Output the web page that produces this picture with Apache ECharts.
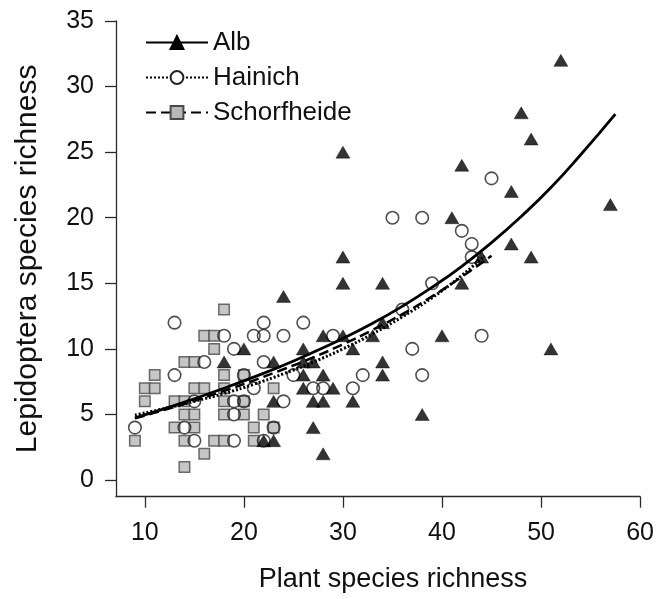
<!DOCTYPE html>
<html>
<head>
<meta charset="utf-8">
<script src="https://cdn.jsdelivr.net/npm/echarts@6/dist/echarts.min.js"></script>
<style>
  html, body { margin: 0; padding: 0; background: #fff; }
  #chart { width: 657px; height: 599px; }
</style>
</head>
<body>
<div id="chart"></div>
<script>
// Tick positions
const xTicks = [10, 20, 30, 40, 50, 60];
const yTicks = [0, 5, 10, 15, 20, 25, 30, 35];

// Plot-level observations: [plant species richness, Lepidoptera species richness]
const albPlots = [
  [52, 32], [48, 28], [49, 26], [30, 25], [42, 24], [47, 22], [57, 21], [41, 20],
  [47, 18], [30, 17], [44, 17], [49, 17], [30, 15], [34, 15], [42, 15], [24, 14],
  [34, 12], [28, 11], [30, 11], [33, 11], [40, 11], [20, 10], [26, 10], [31, 10],
  [51, 10], [18, 9], [23, 9], [26, 9], [27, 9], [34, 9], [26, 8], [28, 8], [34, 8],
  [26, 7], [29, 7], [23, 6], [27, 6], [28, 6], [31, 6], [38, 5], [27, 4], [22, 3],
  [23, 3], [28, 2]
];
const hainichPlots = [
  [45, 23], [35, 20], [38, 20], [42, 19], [43, 18], [43, 17], [39, 15], [36, 13],
  [13, 12], [22, 12], [26, 12], [18, 11], [21, 11], [22, 11], [24, 11], [29, 11],
  [44, 11], [19, 10], [37, 10], [16, 9], [22, 9], [13, 8], [20, 8], [25, 8], [32, 8],
  [38, 8], [21, 7], [27, 7], [28, 7], [31, 7], [15, 6], [19, 6], [20, 6], [24, 6],
  [19, 5], [9, 4], [14, 4], [23, 4], [15, 3], [19, 3], [22, 3]
];
const schorfheidePlots = [
  [18, 13], [16, 11], [17, 11], [17, 10], [14, 9], [15, 9], [11, 8], [18, 8], [20, 8],
  [10, 7], [11, 7], [15, 7], [16, 7], [18, 7], [23, 7], [10, 6], [13, 6], [14, 6],
  [18, 6], [20, 6], [14, 5], [15, 5], [18, 5], [20, 5], [22, 5], [13, 4], [15, 4],
  [21, 4], [23, 4], [9, 3], [14, 3], [17, 3], [18, 3], [21, 3], [16, 2], [14, 1]
];

// Fitted curves per region
const albFit = [
  [9, 4.75], [12, 5.45], [15, 6.2], [18, 7.0], [21, 7.85], [24, 8.75], [27, 9.75],
  [30, 10.8], [33, 11.95], [36, 13.25], [39, 14.7], [42, 16.3], [45, 18.1],
  [48, 20.1], [51, 22.3], [54, 24.8], [57.5, 27.9]
];
const hainichFit = [
  [9, 4.95], [12, 5.45], [15, 6.0], [18, 6.6], [21, 7.3], [24, 8.1], [27, 9.0],
  [30, 10.0], [33, 11.15], [36, 12.45], [39, 13.9], [42, 15.6], [44.3, 17.1]
];
const schorfheideFit = [
  [9, 4.7], [12, 5.35], [15, 6.05], [18, 6.8], [21, 7.6], [24, 8.45], [27, 9.35],
  [30, 10.35], [33, 11.45], [36, 12.65], [39, 14.0], [42, 15.5], [45, 17.1]
];

const FONT = "'Liberation Sans', Arial, Helvetica, sans-serif";
const AXIS_COLOR = '#2a2a2a';
const TEXT_COLOR = '#111';

const chart = echarts.init(document.getElementById('chart'), null, { renderer: 'canvas' });

const triangleStyle = { color: '#000', borderColor: '#000', borderWidth: 0.5 };
const circleStyle = { color: 'rgba(0,0,0,0)', borderColor: '#222', borderWidth: 1.6 };
const squareStyle = { color: '#b8b8b8', borderColor: '#4a4a4a', borderWidth: 1.5 };

chart.setOption({
  animation: false,
  backgroundColor: '#fff',
  textStyle: { fontFamily: FONT },
  grid: { left: 116, right: 14.3, top: 21, bottom: 102.3, containLabel: false },
  legend: {
    data: ['Alb', 'Hainich', 'Schorfheide'],
    orient: 'vertical',
    left: 140,
    top: 24,
    itemWidth: 62,
    itemHeight: 16,
    itemGap: 8,
    textStyle: { fontSize: 26, color: TEXT_COLOR, fontFamily: FONT, lineHeight: 27 },
    selectedMode: false
  },
  xAxis: {
    type: 'value',
    min: 7.09,
    max: 60,
    name: 'Plant species richness',
    nameLocation: 'middle',
    nameGap: 69,
    nameTextStyle: { fontSize: 27, color: TEXT_COLOR, fontFamily: FONT, padding: [0, 0, 0, 30] },
    axisLine: { show: true, onZero: false, lineStyle: { color: AXIS_COLOR, width: 1.3 } },
    axisTick: { show: true, inside: false, length: 11, customValues: xTicks,
                lineStyle: { color: AXIS_COLOR, width: 1.3 } },
    axisLabel: { customValues: xTicks, margin: 24, fontSize: 25, color: TEXT_COLOR, fontFamily: FONT },
    splitLine: { show: false }
  },
  yAxis: {
    type: 'value',
    min: -1.27,
    max: 35,
    name: 'Lepidoptera species richness',
    nameLocation: 'middle',
    nameGap: 73,
    nameTextStyle: { fontSize: 30, color: TEXT_COLOR, fontFamily: FONT },
    axisLine: { show: true, onZero: false, lineStyle: { color: AXIS_COLOR, width: 1.3 } },
    axisTick: { show: true, inside: false, length: 11, customValues: yTicks,
                lineStyle: { color: AXIS_COLOR, width: 1.3 } },
    axisLabel: { customValues: yTicks, margin: 22, fontSize: 25, color: TEXT_COLOR, fontFamily: FONT },
    splitLine: { show: false }
  },
  series: [
    {
      name: 'Schorfheide plots', type: 'scatter', data: schorfheidePlots,
      symbol: 'rect', symbolSize: 10.5, itemStyle: squareStyle, z: 2
    },
    {
      name: 'Hainich plots', type: 'scatter', data: hainichPlots,
      symbol: 'circle', symbolSize: 12.5, itemStyle: circleStyle, z: 3
    },
    {
      name: 'Alb plots', type: 'scatter', data: albPlots,
      symbol: 'triangle', symbolSize: [14, 12], itemStyle: triangleStyle, z: 4
    },
    {
      name: 'Alb', type: 'line', data: albFit, smooth: true, showSymbol: false,
      symbol: 'triangle',
      lineStyle: { color: '#000', width: 2.8, type: 'solid' },
      itemStyle: { color: '#000', borderColor: '#000', borderWidth: 0.5 }, z: 5
    },
    {
      name: 'Hainich', type: 'line', data: hainichFit, smooth: true, showSymbol: false,
      symbol: 'circle',
      lineStyle: { color: '#000', width: 3, type: [2, 2] },
      itemStyle: { color: '#fff', borderColor: '#222', borderWidth: 1.6 }, z: 5
    },
    {
      name: 'Schorfheide', type: 'line', data: schorfheideFit, smooth: true, showSymbol: false,
      symbol: 'rect',
      lineStyle: { color: '#000', width: 2.5, type: [10, 5] },
      itemStyle: { color: '#b8b8b8', borderColor: '#4a4a4a', borderWidth: 1.5 }, z: 5
    }
  ]
});
</script>
</body>
</html>
